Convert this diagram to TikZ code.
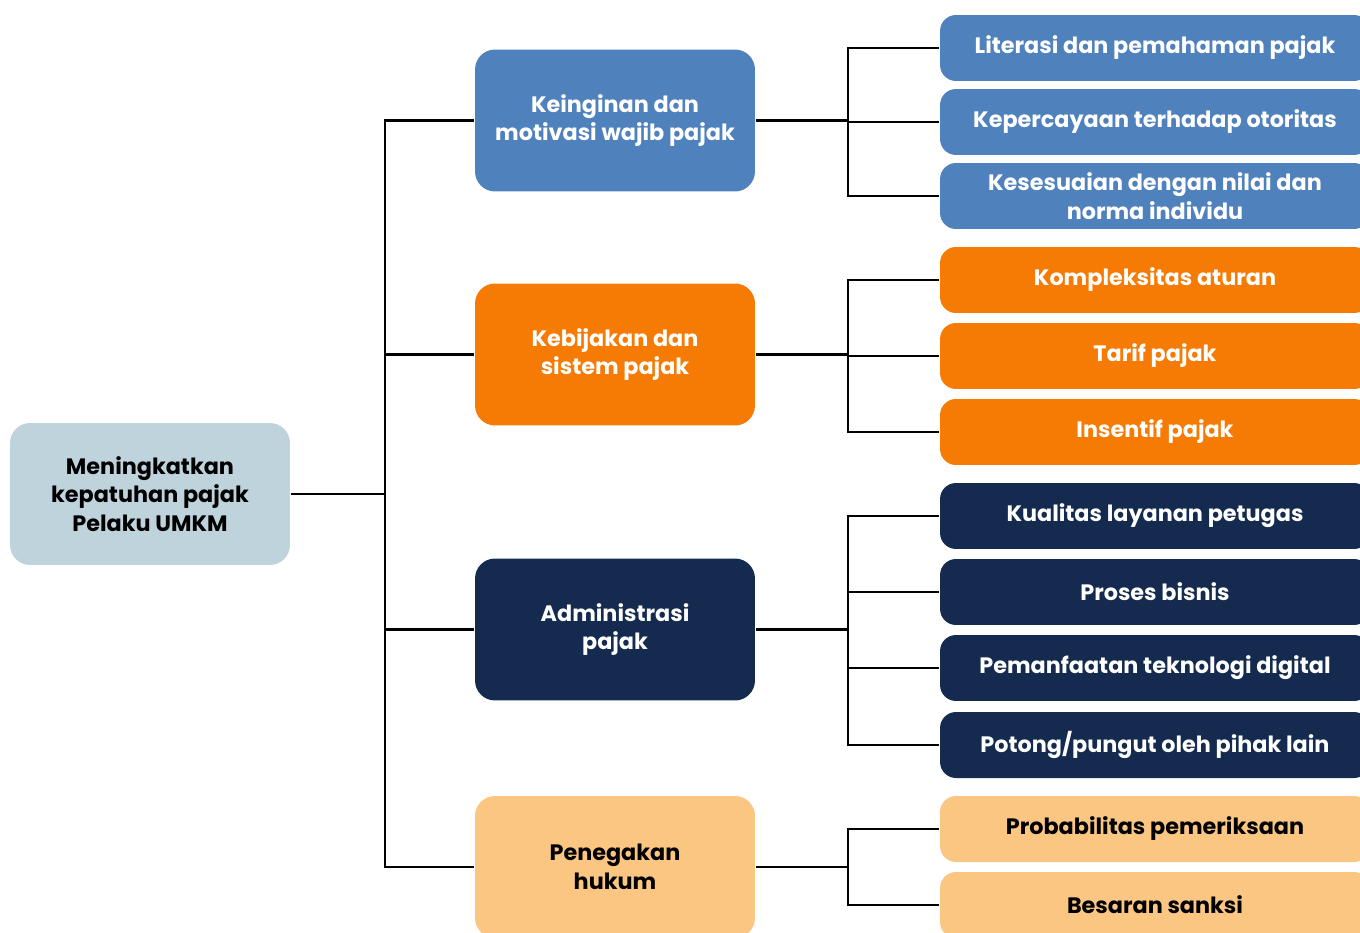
\documentclass[tikz,border=0pt]{standalone}
\usepackage{fontspec}
\setmainfont{Poppins}
\usepackage{tikz}

\definecolor{tblue}{HTML}{4F81BD}
\definecolor{torange}{HTML}{F67B04}
\definecolor{tnavy}{HTML}{142A4E}
\definecolor{tsand}{HTML}{FBC582}
\definecolor{troot}{HTML}{BFD3DD}

\begin{document}
\begin{tikzpicture}[x=0.02cm, y=-0.02cm, line width=1.4pt]
	\tikzstyle{every node} = [rectangle, rounded corners=0.4cm, align=center, font=\bfseries\fontsize{12.7}{16.4}\selectfont, inner sep=0pt]
	\tikzstyle{bigbox} = [minimum width=5.6cm, minimum height=2.84cm]
	\tikzstyle{smallbox} = [minimum width=8.6cm, minimum height=1.32cm, rounded corners=0.32cm]
	\path[use as bounding box, clip] (0,0) rectangle (1360,933);
	% root and main factors
	\node [bigbox, fill=troot] (root) at (150, 494) {Meningkatkan\\kepatuhan pajak\\Pelaku UMKM};
	\node [bigbox, fill=tblue, text=white] (k1) at (615, 120.5) {Keinginan dan\\motivasi wajib pajak};
	\node [bigbox, fill=torange, text=white] (k2) at (615, 354.5) {Kebijakan dan\\sistem pajak};
	\node [bigbox, fill=tnavy, text=white] (k3) at (615, 629.5) {Administrasi\\pajak};
	\node [bigbox, fill=tsand] (k4) at (615, 867) {Penegakan\\hukum};
	% sub factors
	\node [smallbox, fill=tblue, text=white] (l1) at (1155, 48) {Literasi dan pemahaman pajak};
	\node [smallbox, fill=tblue, text=white] (l2) at (1155, 122) {Kepercayaan terhadap otoritas};
	\node [smallbox, fill=tblue, text=white] (l3) at (1155, 196) {Kesesuaian dengan nilai dan\\norma individu};
	\node [smallbox, fill=torange, text=white] (o1) at (1155, 280) {Kompleksitas aturan};
	\node [smallbox, fill=torange, text=white] (o2) at (1155, 356) {Tarif pajak};
	\node [smallbox, fill=torange, text=white] (o3) at (1155, 432) {Insentif pajak};
	\node [smallbox, fill=tnavy, text=white] (n1) at (1155, 516) {Kualitas layanan petugas};
	\node [smallbox, fill=tnavy, text=white] (n2) at (1155, 592) {Proses bisnis};
	\node [smallbox, fill=tnavy, text=white] (n3) at (1155, 668) {Pemanfaatan teknologi digital};
	\node [smallbox, fill=tnavy, text=white] (n4) at (1155, 745) {Potong/pungut oleh pihak lain};
	\node [smallbox, fill=tsand] (y1) at (1155, 829) {Probabilitas pemeriksaan};
	\node [smallbox, fill=tsand] (y2) at (1155, 905) {Besaran sanksi};
	% branch points
	\coordinate (t0) at (385, 494);
	\coordinate (t1) at (848, 120.5);
	\coordinate (t2) at (848, 354.5);
	\coordinate (t3) at (848, 629.5);
	\coordinate (t4) at (848, 867);
	\draw (root) -- (t0);
	\draw (t0) |- (k1.west);
	\draw (t0) |- (k2.west);
	\draw (t0) |- (k3.west);
	\draw (t0) |- (k4.west);
	\draw (k1) -- (t1);
	\draw (t1) |- (l1.west);
	\draw (t1) |- (l2.west);
	\draw (t1) |- (l3.west);
	\draw (k2) -- (t2);
	\draw (t2) |- (o1.west);
	\draw (t2) |- (o2.west);
	\draw (t2) |- (o3.west);
	\draw (k3) -- (t3);
	\draw (t3) |- (n1.west);
	\draw (t3) |- (n2.west);
	\draw (t3) |- (n3.west);
	\draw (t3) |- (n4.west);
	\draw (k4) -- (t4);
	\draw (t4) |- (y1.west);
	\draw (t4) |- (y2.west);
\end{tikzpicture}
\end{document}
